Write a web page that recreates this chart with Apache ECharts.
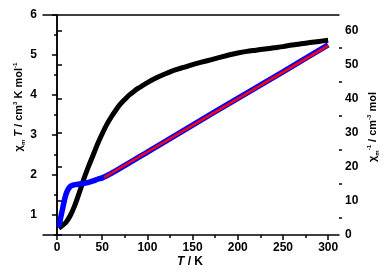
<!DOCTYPE html>
<html>
<head>
<meta charset="utf-8">
<script src="https://cdn.jsdelivr.net/npm/echarts@6/dist/echarts.min.js"></script>
<style>
html,body{margin:0;padding:0;background:#fff;}
#chart{width:392px;height:273px;}
</style>
</head>
<body>
<div id="chart"></div>
<script>
// chiT vs T (black, left axis)
var tBlack = [2,5,10,15,20,25,30,35,40,45,50,55,60,65,70,75,80,85,90,95,100,110,120,130,140,150,160,170,180,190,200,210,220,230,240,250,260,270,280,290,300];
var chiT   = [0.67,0.72,0.82,1.0,1.26,1.58,1.92,2.22,2.5,2.78,3.03,3.26,3.45,3.62,3.77,3.89,4.0,4.09,4.17,4.24,4.31,4.43,4.53,4.62,4.69,4.76,4.82,4.88,4.94,5.0,5.05,5.09,5.12,5.15,5.18,5.21,5.25,5.28,5.31,5.34,5.37];
// 1/chi vs T (blue, right axis)
var tBlue  = [2,4,6,8,10,12,14,16,20,25,30,35,40,45,50,60,100,150,200,250,300];
var invChi = [2.4,5,7.5,10,12,13.3,14.1,14.5,14.8,15.0,15.2,15.5,15.9,16.4,16.8,18.1,24.4,32.3,40.2,48.0,55.9];
// Curie-Weiss fit (red)
var tFit   = [52,300];
var fitVal = [16.9,55.7];

var xMajor = [0,50,100,150,200,250,300];
var xMinor = [25,75,125,175,225,275];
var yLMajor = [1,2,3,4,5,6];
var yLMinor = [0.5,1.5,2.5,3.5,4.5,5.5];
var yRMajor = [0,10,20,30,40,50,60];
var yRMinor = [5,15,25,35,45,55];

function pairs(xs,ys){
	var out=[];
	for(var i=0;i<xs.length;i++) out.push([xs[i],ys[i]]);
	return out;
}

var FAM = '"Liberation Sans",Arial,sans-serif';
var font = {fontFamily:FAM,fontWeight:'bold',fontSize:12,color:'#000'};
var lineStyle = {color:'#000',width:1.5};

function richSet(color,size){
	return {
		b:{fontFamily:FAM,fontWeight:'bold',fontSize:size,lineHeight:14,verticalAlign:'middle',color:color},
		i:{fontFamily:FAM,fontWeight:'bold',fontStyle:'italic',fontSize:size,lineHeight:14,verticalAlign:'middle',color:color},
		sub:{fontFamily:FAM,fontWeight:'bold',fontSize:6,lineHeight:14,verticalAlign:'bottom',color:color},
		sup:{fontFamily:FAM,fontWeight:'bold',fontSize:6,lineHeight:14,verticalAlign:'top',color:color}
	};
}

var myChart = echarts.init(document.getElementById('chart'));
var option = {
	animation:false,
	grid:{left:43,right:53,top:15,bottom:38},
	xAxis:[
		{type:'value',min:-15.5,max:312,position:'bottom',
		 axisLine:{lineStyle:lineStyle},splitLine:{show:false},
		 axisTick:{customValues:xMajor,length:5,lineStyle:lineStyle},
		 axisLabel:Object.assign({customValues:xMajor,margin:7},font)},
		{type:'value',min:-15.5,max:312,position:'bottom',
		 axisLine:{show:false},splitLine:{show:false},
		 axisTick:{customValues:xMinor,length:3,lineStyle:lineStyle},
		 axisLabel:{show:false}},
		{type:'value',min:-15.5,max:312,position:'top',
		 axisLine:{lineStyle:lineStyle},splitLine:{show:false},
		 axisTick:{show:false},axisLabel:{show:false}}
	],
	yAxis:[
		{type:'value',min:0.5,max:6,position:'left',
		 axisLine:{show:true,lineStyle:lineStyle},splitLine:{show:false},
		 axisTick:{show:true,customValues:yLMajor,length:5,lineStyle:lineStyle},
		 axisLabel:Object.assign({customValues:yLMajor,margin:6},font)},
		{type:'value',min:0.5,max:6,position:'left',
		 axisLine:{show:false},splitLine:{show:false},
		 axisTick:{show:true,customValues:yLMinor,length:3,lineStyle:lineStyle},
		 axisLabel:{show:false}},
		{type:'value',min:0,max:64.7,position:'right',
		 axisLine:{show:true,lineStyle:lineStyle},splitLine:{show:false},
		 axisTick:{show:true,customValues:yRMajor,length:5,lineStyle:lineStyle},
		 axisLabel:Object.assign({customValues:yRMajor,margin:6},font)},
		{type:'value',min:0,max:64.7,position:'right',
		 axisLine:{show:false},splitLine:{show:false},
		 axisTick:{show:true,customValues:yRMinor,length:3,lineStyle:lineStyle},
		 axisLabel:{show:false}}
	],
	graphic:[
		{type:'text',x:190,y:262,style:{
			text:'{i|T}{b| / K}',align:'center',verticalAlign:'middle',
			rich:richSet('#000',12)}},
		{type:'text',x:19,y:107,rotation:Math.PI/2,style:{
			text:'{b|χ}{sub|m}{i| T}{b| / cm}{sup|3}{b| K mol}{sup|-1}',align:'center',verticalAlign:'middle',
			rich:richSet('#000',11)}},
		{type:'text',x:373,y:127,rotation:Math.PI/2,style:{
			text:'{b|χ}{sub|m}{sup|-1}{b| / cm}{sup|-3}{b| mol}',align:'center',verticalAlign:'middle',
			rich:richSet('#0000ee',11)}}
	],
	series:[
		{name:'chiT',type:'line',xAxisIndex:0,yAxisIndex:0,data:pairs(tBlack,chiT),
		 showSymbol:false,smooth:0.3,lineStyle:{color:'#000',width:5},z:2},
		{name:'invChi',type:'line',xAxisIndex:0,yAxisIndex:2,data:pairs(tBlue,invChi),
		 showSymbol:false,smooth:0.3,lineStyle:{color:'#0000ff',width:5.5},z:3},
		{name:'fit',type:'line',xAxisIndex:0,yAxisIndex:2,data:pairs(tFit,fitVal),
		 showSymbol:false,lineStyle:{color:'#ff0000',width:2.5},z:4}
	]
};
myChart.setOption(option);
</script>
</body>
</html>
